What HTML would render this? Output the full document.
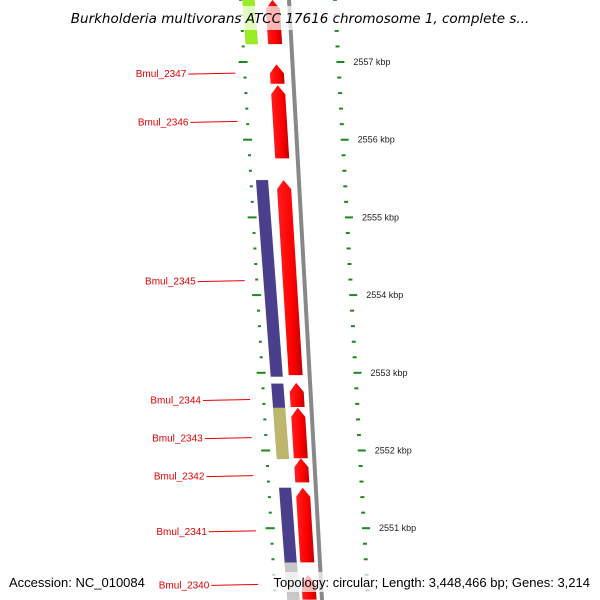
<!DOCTYPE html>
<html><head><meta charset="utf-8"><style>
html,body{margin:0;padding:0;background:#fff;}
svg{display:block;font-family:"Liberation Sans",sans-serif;}
</style></head><body>
<svg id="map" width="600" height="600" viewBox="0 0 600 600" xmlns="http://www.w3.org/2000/svg">
<defs>
<linearGradient id="gr" x1="0" x2="1" y1="0" y2="0"><stop offset="0" stop-color="#ff2020"/><stop offset="0.6" stop-color="#ff0000"/><stop offset="1" stop-color="#c00000"/></linearGradient>
</defs>
<g id="ticks"></g>
<g id="genes"></g>
<g id="labels"></g>
<rect x="60" y="6" width="480" height="24" fill="#fff" opacity="0.7"/>
<text x="300" y="23" text-anchor="middle" font-size="13.5" font-style="italic" fill="#000" style="font-family:'DejaVu Sans',sans-serif">Burkholderia multivorans ATCC 17616 chromosome 1, complete s...</text>
<rect x="4" y="572" width="146" height="20" fill="#fff" opacity="0.7"/>
<text x="9" y="587" font-size="13" fill="#000">Accession: NC_010084</text>
<rect x="258" y="572" width="338" height="20" fill="#fff" opacity="0.7"/>
<text x="590" y="587" text-anchor="end" font-size="13" fill="#000">Topology: circular; Length: 3,448,466 bp; Genes: 3,214</text>
</svg>
<script>
// data (kbp)
const fwdStarts = [2557.80, 2556.97, 2556.70, 2555.48, 2552.87, 2552.55, 2551.90, 2551.52, 2550.40];
const fwdEnds   = [2557.23, 2556.72, 2555.76, 2552.97, 2552.56, 2551.90, 2551.59, 2550.56, 2550.08];
const catStarts = [2557.80, 2555.48, 2552.86, 2552.55, 2551.52, 2550.56];
const catEnds   = [2557.23, 2552.95, 2552.55, 2551.89, 2550.55, 2550.08];
const catColors = ["#99ee22", "#4a3f8c", "#4a3f8c", "#bdb76b", "#4a3f8c", "#c8c8c8"];
const labelNames = ["Bmul_2347","Bmul_2346","Bmul_2345","Bmul_2344","Bmul_2343","Bmul_2342","Bmul_2341","Bmul_2340"];
const labelPos = [2556.85, 2556.23, 2554.18, 2552.65, 2552.16, 2551.67, 2550.96, 2550.27];
const tickKbp = [2557, 2556, 2555, 2554, 2553, 2552, 2551];

const NS="http://www.w3.org/2000/svg";
function Y(k){return 62 + (2557 - k) * 77.7;}
const catX = y => 248.5 + 0.075*y;
const redX = y => 272.4 + 0.062*y;
const innerX = y => 240 + 0.058*y;
const outerX = y => 334 + 0.055*y;
const lineEndX = y => 232 + 0.045*y;
function mk(tag, attrs, parent){const e=document.createElementNS(NS,tag);for(const a in attrs)e.setAttribute(a,attrs[a]);parent.appendChild(e);return e;}
const G=document.getElementById('genes'), T=document.getElementById('ticks'), L=document.getElementById('labels');

let bb=mk('line',{x1:289,y1:0,x2:322,y2:600,stroke:'#888','stroke-width':4},G);



for(let i=-2;i<50;i++){
  const k=2557.8 - i*0.2; const kk=Math.round(k*10)/10;
  const y=Y(kk); if(y<-5||y>605) continue;
  const major=Math.abs(kk-Math.round(kk))<0.01;
  const xi=innerX(y), xo=outerX(y);
  let t1=mk('line',{x1:major?xi-5:xi-1,y1:y,x2:xi+(major?4:2),y2:y,stroke:'#1a8a1a','stroke-width':2},T);
  
  
  let t2=mk('line',{x1:xo-1,y1:y,x2:xo+(major?7:3),y2:y,stroke:'#1a8a1a','stroke-width':2},T);
  
  
}
tickKbp.forEach(k=>{
  const y=Y(k);
  let t=mk('text',{x:outerX(y)+16,y:y+3,'font-size':9,fill:'#222'},T);
  t.textContent=k+' kbp';
  
  
});

catStarts.forEach((s,i)=>{
  const y1=Y(s), y2=Y(catEnds[i]), w=12;
  const a=catX(y1), b=catX(y2);
  let p=mk('polygon',{points:`${a-w/2},${y1} ${a+w/2},${y1} ${b+w/2},${y2} ${b-w/2},${y2}`,fill:catColors[i],stroke:'rgba(0,0,0,0.15)','stroke-width':0.5},G);
  
  
});
fwdStarts.forEach((s,i)=>{
  const y1=Y(s), y2=Y(fwdEnds[i]), w=14;
  const top=Math.min(y1,y2), bot=Math.max(y1,y2);
  const a=redX(top), b=redX(bot), h=Math.min(9,(bot-top)/2);
  const ah=redX(top+h);
  let p=mk('polygon',{points:`${a},${top} ${ah+w/2},${top+h} ${b+w/2},${bot} ${b-w/2},${bot} ${ah-w/2},${top+h}`,fill:'url(#gr)'},G);
  
  
});

labelNames.forEach((n,i)=>{
  const y=Y(labelPos[i]); const xe=lineEndX(y);
  let l=mk('line',{x1:xe-47,y1:y+0.5,x2:xe,y2:y-0.5,stroke:'#e00','stroke-width':1},L);
  
  
  let t=mk('text',{x:xe-49,y:y+3.5,'text-anchor':'end','font-size':10,fill:'#e00000'},L);
  t.textContent=n;
  
  
});
</script>
</body></html>
